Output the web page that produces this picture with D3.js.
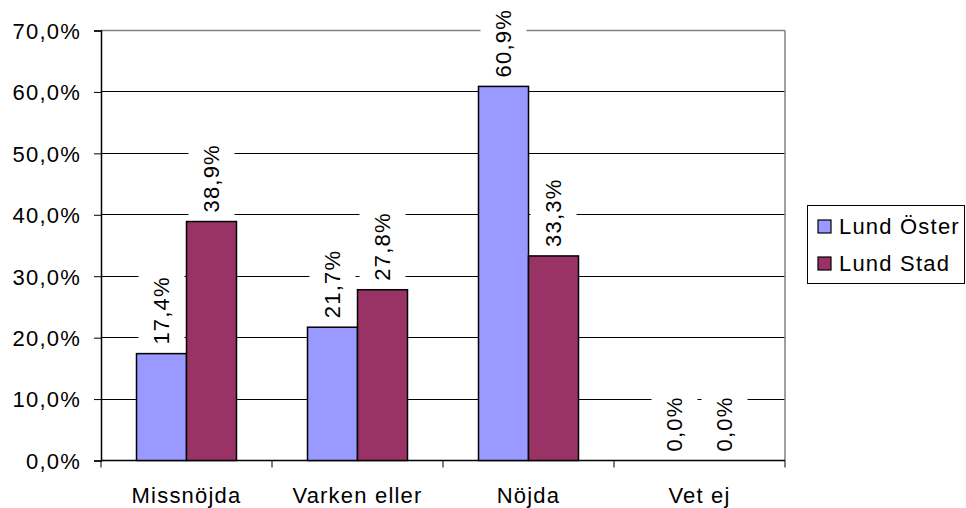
<!DOCTYPE html>
<html><head><meta charset="utf-8">
<script src="https://cdn.jsdelivr.net/npm/d3@7/dist/d3.min.js"></script>
<style>
html,body{margin:0;padding:0;background:#fff;}
svg text{font-family:Arial,"Liberation Sans",sans-serif;font-size:22px;letter-spacing:1.2px;fill:#000;}
</style></head>
<body>
<svg id="c" width="966" height="508"></svg>
<script>
const categories = ["Missnöjda", "Varken eller", "Nöjda", "Vet ej"];
const seriesNames = ["Lund Öster", "Lund Stad"];
const lundOster = [17.4, 21.7, 60.9, 0.0];
const lundStad = [38.9, 27.8, 33.3, 0.0];
const yTicks = [0, 10, 20, 30, 40, 50, 60, 70];
const colors = ["#9999FF", "#993366"];

const seriesValues = [lundOster, lundStad];
const svg = d3.select("#c");
const L = 101, R = 785, T = 30.5, B = 460.5;
const fmt = v => d3.format(".1f")(v).replace(".", ",") + "%";

const y = d3.scaleLinear().domain([0, 70]).range([B, T]);
const x = d3.scaleBand().domain(categories).range([L, R]).padding(0);
const x1 = d3.scaleBand().domain(seriesNames).range([0, x.bandwidth()]).paddingInner(0).paddingOuter(0.71);

// gridlines
svg.append("g").selectAll("line").data(yTicks.filter(t => t > 0 && t < 70)).join("line")
  .attr("x1", L).attr("x2", R).attr("y1", d => y(d)).attr("y2", d => y(d))
  .attr("stroke", "#000").attr("stroke-width", 1).attr("shape-rendering", "crispEdges");
// plot border top / right (gray)
svg.append("line").attr("x1", L).attr("x2", R).attr("y1", y(70)).attr("y2", y(70))
  .attr("stroke", "#808080").attr("stroke-width", 1.5);
svg.append("line").attr("x1", R).attr("x2", R).attr("y1", y(70)).attr("y2", B)
  .attr("stroke", "#808080").attr("stroke-width", 1.5);

// y axis
const yAxis = d3.axisLeft(y).tickValues(yTicks).tickSize(7).tickPadding(13).tickFormat(fmt);
const gy = svg.append("g").attr("transform", `translate(${L},0)`).call(yAxis);
gy.attr("font-size", null).attr("font-family", null);
gy.select(".domain").attr("stroke", "#000").attr("stroke-width", 1.5);
gy.selectAll(".tick line").attr("stroke", "#000");
gy.selectAll("text").attr("dy", "0.36em");

// x axis
const gx = svg.append("g").attr("transform", `translate(0,${B})`);
gx.append("line").attr("x1", L).attr("x2", R).attr("y1", 0).attr("y2", 0).attr("stroke", "#000").attr("stroke-width", 1.5);
const bounds = categories.map(c => x(c)).concat([R]);
gx.selectAll("line.t").data(bounds).join("line").attr("class", "t")
  .attr("x1", d => d).attr("x2", d => d).attr("y1", 0).attr("y2", 7).attr("stroke", "#000");
gx.selectAll("text").data(categories).join("text")
  .attr("x", d => x(d) + x.bandwidth() / 2).attr("y", 42.5).attr("text-anchor", "middle").text(d => d);

// bars
const data = [];
categories.forEach((c, i) => seriesNames.forEach((s, j) => data.push({c, s, v: seriesValues[j][i], j})));
svg.append("g").selectAll("rect").data(data).join("rect")
  .attr("x", d => x(d.c) + x1(d.s)).attr("width", x1.bandwidth())
  .attr("y", d => y(d.v)).attr("height", d => B - y(d.v))
  .attr("fill", d => colors[d.j]).attr("stroke", "#000").attr("stroke-width", 1.5);

// labels
const lg = svg.append("g");
data.forEach(d => {
  const cx = x(d.c) + x1(d.s) + x1.bandwidth() / 2;
  const by = y(d.v) - 9;
  const g = lg.append("g").attr("transform", `translate(${cx},${by}) rotate(-90)`);
  const r = g.append("rect").attr("fill", "#fff");
  const t = g.append("text").attr("x", 0).attr("y", 0).attr("dy", "0.36em").attr("text-anchor", "start").text(fmt(d.v));
  const bb = t.node().getBBox();
  r.attr("x", bb.x - 5).attr("y", -23).attr("width", bb.width + 8).attr("height", 46);
});

// legend
const leg = svg.append("g");
leg.append("rect").attr("x", 807.5).attr("y", 205.5).attr("width", 157).attr("height", 78)
  .attr("fill", "#fff").attr("stroke", "#000").attr("stroke-width", 1);
seriesNames.forEach((s, i) => {
  const yy = 226.5 + i * 37;
  leg.append("rect").attr("x", 818).attr("y", yy - 6.5).attr("width", 13).attr("height", 13)
    .attr("fill", colors[i]).attr("stroke", "#000").attr("stroke-width", 1.2);
  leg.append("text").attr("x", 839).attr("y", yy).attr("dy", "0.36em").text(s);
});
</script>
</body></html>
